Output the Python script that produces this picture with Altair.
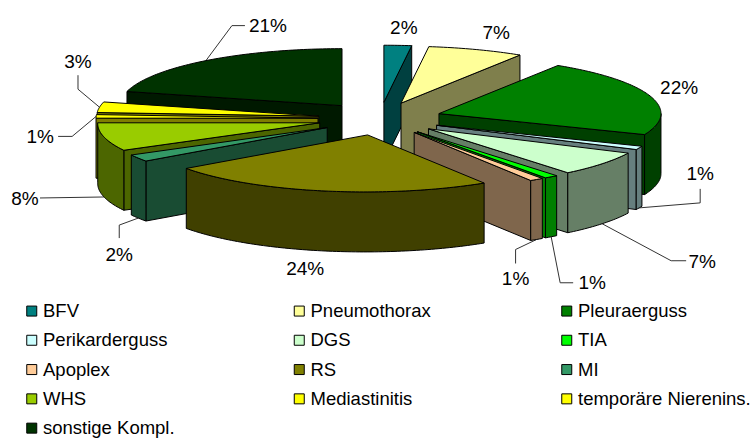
import math
import altair as alt
import pandas as pd

# Complication shares, clockwise from twelve o'clock
categories = ["BFV", "Pneumothorax", "Pleuraerguss", "Perikarderguss", "DGS", "TIA", "Apoplex",
              "RS", "MI", "WHS", "Mediastinitis", "temporäre Nierenins.", "sonstige Kompl."]
shares = [2, 7, 22, 1, 7, 1, 1, 24, 2, 8, 1, 3, 21]
colors = ["#008080", "#FFFF99", "#008000", "#CCFFFF", "#CCFFCC", "#00FF00", "#FFCC99",
          "#808000", "#339966", "#99CC00", "#FFFF00", "#FFFF00", "#003300"]

# Pie projection: centre, exploded offset, disc radii, rim height and front-edge lean
W, H = 755, 440
CX, CY = 380.0, 118.7
EX, EY = 62.0, 16.5
RX, RY = 222.0, 57.0
DEPTH = 60.0
LEAN = 0.05
FONT = "Liberation Sans"
FONT_SIZE = 19
LEGEND_FONT_SIZE = 18.5

# Label offset from the rim anchor, and optional leader elbow and end, per slice
label_layout = [
    ((6, -17), None, None),
    ((20, -17), None, None),
    ((29, -8), None, None),
    ((61, -34), (61, -5), (61, -19)),
    ((100, 38), (69, 37), (84, 37)),
    ((41, 46), (9, 46), (22, 46)),
    ((-21, 40), (-21, 10), (-21, 24)),
    ((-18, 18), None, None),
    ((-19, 37), (-19, 7), (-19, 20)),
    ((-79, 2), (-64, 1), (-64, 1)),
    ((-56, 21), (-24, 20), (-38, 20)),
    ((-21.5, -45), (-21.5, -18), (-21.5, -32)),
    ((62, -35), (26, -35), (39, -35)),
]


def shade(hex_color):
    r, g, b = (int(hex_color[i:i + 2], 16) for i in (1, 3, 5))
    return f"#{r // 2:02x}{g // 2:02x}{b // 2:02x}"


def lean(x, y, drop=0.0):
    # Points in front of the centre line drift slightly left; rims stay vertical
    return (x - LEAN * max(0.0, y - CY), y + drop)


def rim(apex, deg, drop=0.0):
    t = math.radians(deg)
    return lean(apex[0] + RX * math.sin(t), apex[1] - RY * math.cos(t), drop)


def arc_angles(a, b):
    n = max(2, int(abs(b - a)) + 2)
    return [a + (b - a) * k / (n - 1) for k in range(n)]


slices = []
running = 0.0
for name, share, color in zip(categories, shares, colors):
    start = running * 3.6
    end = (running + share) * 3.6
    mid = (start + end) / 2
    t = math.radians(mid)
    slices.append(dict(name=name, share=share, color=color, start=start, end=end, mid=mid,
                       apex=(CX + EX * math.sin(t), CY - EY * math.cos(t))))
    running += share

faces = []
face_count = 0


def add_face(points, fill):
    global face_count
    closed = points + [points[0]]
    faces.extend({"face": face_count, "i": i, "x": p[0], "y": p[1], "fill": fill}
                 for i, p in enumerate(closed))
    face_count += 1


# Painter's order: slices further back are laid down first
for s in sorted(slices, key=lambda s: s["apex"][1]):
    a, p, q = s["apex"], s["start"], s["end"]
    wall = shade(s["color"])
    top_apex = lean(*a)
    bottom = lean(a[0], a[1], DEPTH)
    # A cut face shows only when its outward normal turns toward the viewer
    if math.cos(math.radians(p - 90)) < 0:
        add_face([top_apex, rim(a, p), rim(a, p, DEPTH), bottom], wall)
    if math.cos(math.radians(q + 90)) < 0:
        add_face([top_apex, rim(a, q), rim(a, q, DEPTH), bottom], wall)
    lo, hi = max(p, 90.0), min(q, 270.0)
    if lo < hi:
        angles = arc_angles(lo, hi)
        add_face([rim(a, d) for d in angles] + [rim(a, d, DEPTH) for d in reversed(angles)], wall)
    add_face([top_apex] + [rim(a, d) for d in arc_angles(p, q)], s["color"])

labels, leaders = [], []
for s, (text_off, elbow, end) in zip(slices, label_layout):
    anchor = rim(s["apex"], s["mid"], DEPTH if math.cos(math.radians(s["mid"])) < 0 else 0.0)
    labels.append({"text": f"{s['share']}%", "x": anchor[0] + text_off[0], "y": anchor[1] + text_off[1]})
    if elbow:
        for i, pt in enumerate((anchor, (anchor[0] + elbow[0], anchor[1] + elbow[1]),
                                (anchor[0] + end[0], anchor[1] + end[1]))):
            leaders.append({"slice": s["name"], "i": i, "x": pt[0], "y": pt[1]})

x_enc = alt.X("x:Q", axis=None, scale=alt.Scale(domain=[0, W], nice=False, zero=False))
y_enc = alt.Y("y:Q", axis=None, scale=alt.Scale(domain=[H, 0], nice=False, zero=False))

leader_layer = alt.Chart(pd.DataFrame(leaders)).mark_line(color="#333333", strokeWidth=1).encode(
    x=x_enc, y=y_enc, detail="slice:N", order="i:Q")

pie_layer = alt.Chart(pd.DataFrame(faces)).mark_line(
    filled=True, stroke="black", strokeWidth=1, strokeJoin="round").encode(
    x=x_enc, y=y_enc, detail="face:N", order="i:Q", fill=alt.Fill("fill:N", scale=None, legend=None))

label_layer = alt.Chart(pd.DataFrame(labels)).mark_text(
    font=FONT, fontSize=FONT_SIZE, color="black", align="center", baseline="middle").encode(
    x=x_enc, y=y_enc, text="text:N")

legend_layer = alt.Chart(pd.DataFrame({"name": categories})).mark_square(size=100, opacity=0).encode(
    x=alt.value(0), y=alt.value(0),
    fill=alt.Fill("name:N", scale=alt.Scale(domain=categories, range=colors),
                  legend=alt.Legend(title=None, orient="none", direction="horizontal",
                                    legendX=22.5, legendY=301.7, columns=3,
                                    gridAlign="all", columnPadding=73.5, rowPadding=10.3,
                                    symbolType="square", symbolSize=100, symbolOpacity=1,
                                    symbolStrokeColor="black", symbolStrokeWidth=1,
                                    labelFont=FONT, labelFontSize=LEGEND_FONT_SIZE, labelColor="black",
                                    labelLimit=300, labelOffset=2)))

chart = alt.layer(leader_layer, pie_layer, label_layer, legend_layer).resolve_scale(
    fill="independent").properties(
    width=W, height=H, padding=0, autosize=alt.AutoSizeParams(type="none"),
    background="white").configure_view(stroke=None)

chart.save("out.html", embed_options={"renderer": "svg", "actions": False})
